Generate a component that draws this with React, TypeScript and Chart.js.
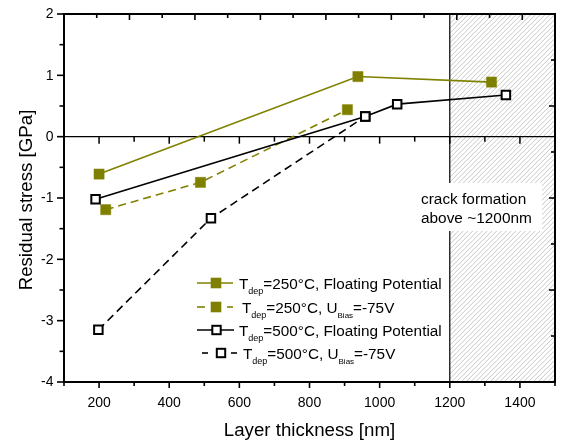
import React, { useEffect, useRef } from 'react';
import { Chart, registerables } from 'chart.js';

Chart.register(...registerables);

const OLIVE = '#808000';
const FONT = '"Liberation Sans", Arial, Helvetica, sans-serif';

// Series data (layer thickness in nm, residual stress in GPa)
const s1X = [200, 938, 1319];
const s1Y = [-0.61, 0.98, 0.89];
const s2X = [219, 489, 908];
const s2Y = [-1.19, -0.745, 0.44];
const s3X = [190, 959, 1050, 1360];
const s3Y = [-1.02, 0.33, 0.53, 0.68];
const s4X = [198, 519, 959];
const s4Y = [-3.15, -1.33, 0.33];

// Axes
const xMin = 100;
const xMax = 1500;
const yMin = -4;
const yMax = 2;
const xMajorTicks = [200, 400, 600, 800, 1000, 1200, 1400];
const xMinorTicks = [100, 300, 500, 700, 900, 1100, 1300, 1500];
const yMajorTicks = [-4, -3, -2, -1, 0, 1, 2];
const yMinorTicks = [-3.5, -2.5, -1.5, -0.5, 0.5, 1.5];
const topMajorTicks = [286.7, 473.3, 660, 846.7, 1033.3, 1220, 1406.7];
const topMinorTicks = [193.3, 380, 566.7, 753.3, 940, 1126.7, 1313.3];
const rightMajorTicks = [0.5, -1, -2.5];
const rightMinorTicks = [1.25, -0.25, -1.75, -3.25];
const crackStart = 1200;
const crackText = ['crack formation', 'above ~1200nm'];
const xTitle = 'Layer thickness [nm]';
const yTitle = 'Residual stress [GPa]';

type Seg = { t: string; sub?: number };
const legendTexts: Seg[][] = [
  [{ t: 'T' }, { t: 'dep', sub: 9 }, { t: '=250°C, Floating Potential' }],
  [{ t: 'T' }, { t: 'dep', sub: 9 }, { t: '=250°C, U' }, { t: 'Bias', sub: 8 }, { t: '=-75V' }],
  [{ t: 'T' }, { t: 'dep', sub: 9 }, { t: '=500°C, Floating Potential' }],
  [{ t: 'T' }, { t: 'dep', sub: 9 }, { t: '=500°C, U' }, { t: 'Bias', sub: 8 }, { t: '=-75V' }],
];

const toPts = (xs: number[], ys: number[]) => xs.map((v, i) => ({ x: v, y: ys[i] }));

const decor = {
  id: 'decor',
  beforeDatasetsDraw(chart: any) {
    const { ctx, chartArea: a, scales } = chart;
    const x = scales.x;
    const y = scales.y;
    const xc = x.getPixelForValue(crackStart);
    ctx.save();
    // hatch region
    ctx.save();
    ctx.beginPath();
    ctx.rect(xc, a.top, a.right - xc, a.bottom - a.top);
    ctx.clip();
    ctx.strokeStyle = '#b4b4b4';
    ctx.lineWidth = 0.75;
    const h = a.bottom - a.top;
    for (let sx = xc - h; sx < a.right + 5; sx += 4.8) {
      ctx.beginPath();
      ctx.moveTo(sx, a.bottom);
      ctx.lineTo(sx + h, a.top);
      ctx.stroke();
    }
    ctx.restore();
    // vertical boundary
    ctx.strokeStyle = '#000';
    ctx.lineWidth = 1.2;
    ctx.beginPath();
    ctx.moveTo(xc, a.top);
    ctx.lineTo(xc, a.bottom);
    ctx.stroke();
    // white text box
    const bx = 410, by = 183, bw = 132, bh = 48;
    ctx.fillStyle = '#fff';
    ctx.fillRect(bx, by, bw, bh);
    ctx.fillStyle = '#000';
    ctx.font = `15.4px ${FONT}`;
    ctx.textAlign = 'left';
    ctx.textBaseline = 'alphabetic';
    ctx.fillText(crackText[0], 421, 203.5);
    ctx.fillText(crackText[1], 421, 222.5);
    // zero line with ticks
    const y0 = y.getPixelForValue(0);
    ctx.lineWidth = 1.3;
    ctx.beginPath();
    ctx.moveTo(a.left, y0);
    ctx.lineTo(a.right, y0);
    ctx.stroke();
    ctx.lineWidth = 1.5;
    xMajorTicks.forEach((v) => {
      const px = x.getPixelForValue(v);
      ctx.beginPath();
      ctx.moveTo(px, y0);
      ctx.lineTo(px, y0 + 7);
      ctx.stroke();
    });
    xMinorTicks.forEach((v) => {
      const px = x.getPixelForValue(v);
      ctx.beginPath();
      ctx.moveTo(px, y0);
      ctx.lineTo(px, y0 + 5);
      ctx.stroke();
    });
    ctx.restore();
  },
  afterDatasetsDraw(chart: any) {
    const { ctx, chartArea: a, scales } = chart;
    const x = scales.x;
    const y = scales.y;
    ctx.save();
    ctx.strokeStyle = '#000';
    ctx.fillStyle = '#000';
    // frame
    ctx.lineWidth = 2;
    ctx.strokeRect(a.left, a.top, a.right - a.left, a.bottom - a.top);
    ctx.lineWidth = 1.6;
    const tick = (x1: number, y1: number, x2: number, y2: number) => {
      ctx.beginPath();
      ctx.moveTo(x1, y1);
      ctx.lineTo(x2, y2);
      ctx.stroke();
    };
    // bottom (outward)
    xMajorTicks.forEach((v) => { const p = x.getPixelForValue(v); tick(p, a.bottom, p, a.bottom + 6); });
    xMinorTicks.forEach((v) => { const p = x.getPixelForValue(v); tick(p, a.bottom, p, a.bottom + 4); });
    // top (inward)
    topMajorTicks.forEach((v) => { const p = x.getPixelForValue(v); tick(p, a.top, p, a.top + 6); });
    topMinorTicks.forEach((v) => { const p = x.getPixelForValue(v); tick(p, a.top, p, a.top + 4); });
    // left (outward)
    yMajorTicks.forEach((v) => { const p = y.getPixelForValue(v); tick(a.left, p, a.left - 7, p); });
    yMinorTicks.forEach((v) => { const p = y.getPixelForValue(v); tick(a.left, p, a.left - 4.5, p); });
    // right (inward)
    rightMajorTicks.forEach((v) => { const p = y.getPixelForValue(v); tick(a.right, p, a.right - 6, p); });
    rightMinorTicks.forEach((v) => { const p = y.getPixelForValue(v); tick(a.right, p, a.right - 4, p); });

    // tick labels
    ctx.font = `14px ${FONT}`;
    ctx.textAlign = 'center';
    ctx.textBaseline = 'alphabetic';
    xMajorTicks.forEach((v) => ctx.fillText(String(v), x.getPixelForValue(v), a.bottom + 25));
    ctx.textAlign = 'right';
    ctx.textBaseline = 'middle';
    yMajorTicks.forEach((v) => ctx.fillText(String(v), a.left - 10.5, y.getPixelForValue(v) + 0.5));

    // axis titles
    ctx.font = `18.7px ${FONT}`;
    ctx.textAlign = 'center';
    ctx.textBaseline = 'alphabetic';
    ctx.fillText(xTitle, (a.left + a.right) / 2 + 0, 436);
    ctx.save();
    ctx.translate(31.5, (a.top + a.bottom) / 2 + 2);
    ctx.rotate(-Math.PI / 2);
    ctx.fillText(yTitle, 0, 0);
    ctx.restore();

    // legend
    const rows = [283, 307, 330, 353];
    const drawSq = (cx: number, cy: number, filled: boolean) => {
      if (filled) {
        ctx.fillStyle = OLIVE;
        ctx.fillRect(cx - 5.3, cy - 5.3, 10.6, 10.6);
      } else {
        ctx.fillStyle = '#fff';
        ctx.strokeStyle = '#000';
        ctx.lineWidth = 2;
        ctx.fillRect(cx - 4.2, cy - 4.2, 8.4, 8.4);
        ctx.strokeRect(cx - 4.2, cy - 4.2, 8.4, 8.4);
      }
    };
    const seg = (color: string, x1: number, x2: number, yy: number) => {
      ctx.strokeStyle = color;
      ctx.lineWidth = 1.6;
      ctx.beginPath();
      ctx.moveTo(x1, yy);
      ctx.lineTo(x2, yy);
      ctx.stroke();
    };
    // row 1
    seg(OLIVE, 197, 233, rows[0]);
    drawSq(216, rows[0], true);
    // row 2
    seg(OLIVE, 197, 205, rows[1]);
    seg(OLIVE, 227, 233, rows[1]);
    drawSq(216, rows[1], true);
    // row 3
    seg('#000', 197, 234, rows[2]);
    drawSq(216.5, rows[2], false);
    // row 4
    seg('#000', 202, 208, rows[3]);
    seg('#000', 231, 237, rows[3]);
    drawSq(221, rows[3], false);

    const textX = [239, 242, 239, 243];
    ctx.fillStyle = '#000';
    ctx.textAlign = 'left';
    ctx.textBaseline = 'alphabetic';
    legendTexts.forEach((parts, i) => {
      let cx = textX[i];
      const base = rows[i] + 6;
      parts.forEach((p) => {
        if (p.sub) {
          ctx.font = `${p.sub}px ${FONT}`;
          ctx.fillText(p.t, cx, base + 4.5);
        } else {
          ctx.font = `15.3px ${FONT}`;
          ctx.fillText(p.t, cx, base);
        }
        cx += ctx.measureText(p.t).width;
      });
    });
    ctx.restore();
  },
};

export default function App() {
  const ref = useRef<HTMLCanvasElement | null>(null);
  useEffect(() => {
    document.body.style.margin = '0';
    if (!ref.current) return;
    const filled = {
      pointStyle: 'rect',
      pointRadius: 7.2,
      pointBackgroundColor: OLIVE,
      pointBorderColor: OLIVE,
      pointBorderWidth: 0.5,
    };
    const open = {
      pointStyle: 'rect',
      pointRadius: 6,
      pointBackgroundColor: '#fff',
      pointBorderColor: '#000',
      pointBorderWidth: 2,
    };
    const chart = new Chart(ref.current, {
      type: 'line',
      data: {
        datasets: [
          { label: 'T_dep=500°C, Floating Potential', data: toPts(s3X, s3Y), borderColor: '#000', borderWidth: 1.6, ...open } as any,
          { label: 'T_dep=500°C, U_Bias=-75V', data: toPts(s4X, s4Y), borderColor: '#000', borderWidth: 1.6, borderDash: [8, 5], ...open } as any,
          { label: 'T_dep=250°C, Floating Potential', data: toPts(s1X, s1Y), borderColor: OLIVE, borderWidth: 1.6, ...filled } as any,
          { label: 'T_dep=250°C, U_Bias=-75V', data: toPts(s2X, s2Y), borderColor: OLIVE, borderWidth: 1.6, borderDash: [8, 5], ...filled } as any,
        ],
      },
      options: {
        responsive: false,
        animation: false,
        devicePixelRatio: 1,
        layout: { padding: { left: 64, right: 5, top: 14, bottom: 60 } },
        scales: {
          x: { type: 'linear', min: xMin, max: xMax, display: false },
          y: { type: 'linear', min: yMin, max: yMax, display: false },
        },
        plugins: {
          legend: { display: false },
          tooltip: { enabled: false },
        },
        elements: { line: { tension: 0 } },
      },
      plugins: [decor],
    });
    return () => chart.destroy();
  }, []);
  return <canvas ref={ref} width={563} height={442} style={{ display: 'block' }} />;
}
